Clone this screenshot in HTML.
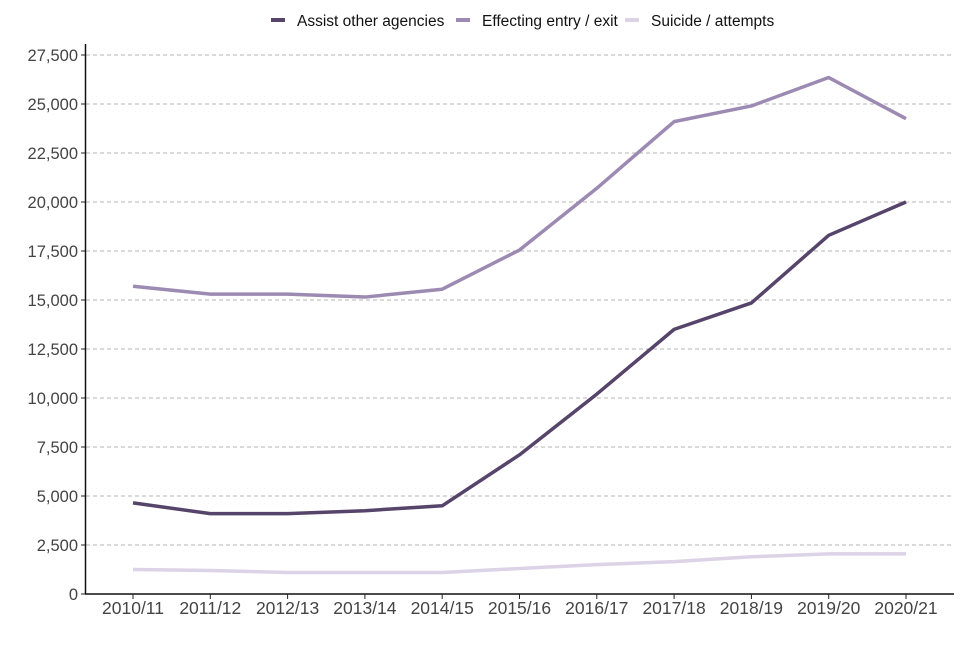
<!DOCTYPE html>
<html><head><meta charset="utf-8"><style>
body{margin:0;background:#fff;width:960px;height:640px;overflow:hidden;font-family:"Liberation Sans",sans-serif}
</style></head><body>
<svg id="chart" width="960" height="640" xmlns="http://www.w3.org/2000/svg"></svg>
<script>
const categories=["2010/11","2011/12","2012/13","2013/14","2014/15","2015/16","2016/17","2017/18","2018/19","2019/20","2020/21"];
const assistValues=[4650,4100,4100,4250,4500,7100,10200,13500,14850,18300,20000];
const entryValues=[15700,15300,15300,15150,15550,17550,20700,24100,24900,26350,24250];
const suicideValues=[1250,1200,1100,1100,1100,1300,1500,1650,1900,2050,2050];
const yTicks=[0,2500,5000,7500,10000,12500,15000,17500,20000,22500,25000,27500];
const seriesNames=["Assist other agencies","Effecting entry / exit","Suicide / attempts"];
const colors=["#56446a","#9d8ab2","#dcd3e6"];
const svg=document.getElementById('chart');
const NS="http://www.w3.org/2000/svg";
const x0=133,dx=77.3,y0=594,yTop=55,yMax=27500;
const X=i=>x0+i*dx;
const Y=v=>y0-(v/yMax)*(y0-yTop);
function mk(t,a,p){const e=document.createElementNS(NS,t);for(const k in a)e.setAttribute(k,a[k]);(p||svg).appendChild(e);return e;}
yTicks.forEach(v=>{
 if(v>0){const g=mk('line',{x1:86,x2:954,y1:Y(v),y2:Y(v),stroke:'#b4b4b4','stroke-dasharray':'4,3','stroke-width':1});
 
 }
 const t=mk('text',{x:78,y:Y(v)+6,'text-anchor':'end','font-size':16.5,fill:'#444'});t.textContent=v.toLocaleString('en-GB');
 
 
 const tk=mk('line',{x1:81,x2:86,y1:Y(v),y2:Y(v),stroke:'#222'});
 
 
});
const ya=mk('line',{x1:85.5,x2:85.5,y1:44,y2:594,stroke:'#111','stroke-width':1.5});


const xa=mk('line',{x1:85,x2:954,y1:594,y2:594,stroke:'#111','stroke-width':1.5});


categories.forEach((c,i)=>{
 const tk=mk('line',{x1:X(i),x2:X(i),y1:594,y2:599,stroke:'#222'});
 
 
 const t=mk('text',{x:X(i),y:614,'text-anchor':'middle','font-size':17.5,fill:'#444'});t.textContent=c;
 
 
});
[suicideValues,entryValues,assistValues].forEach((vals,k)=>{
 const idx=[2,1,0][k];
 const p=mk('polyline',{points:vals.map((v,i)=>X(i)+','+Y(v)).join(' '),fill:'none',stroke:colors[idx],'stroke-width':3.5,'stroke-linejoin':'round'});
 
 
});
const lx=[271,456,625];
seriesNames.forEach((n,i)=>{
 const l=mk('line',{x1:lx[i],x2:lx[i]+14,y1:20,y2:20,stroke:colors[i],'stroke-width':4});
 
 
 const t=mk('text',{x:lx[i]+26,y:26,'font-size':15.5,fill:'#111'});t.textContent=n;
 
 
});
</script>
</body></html>
